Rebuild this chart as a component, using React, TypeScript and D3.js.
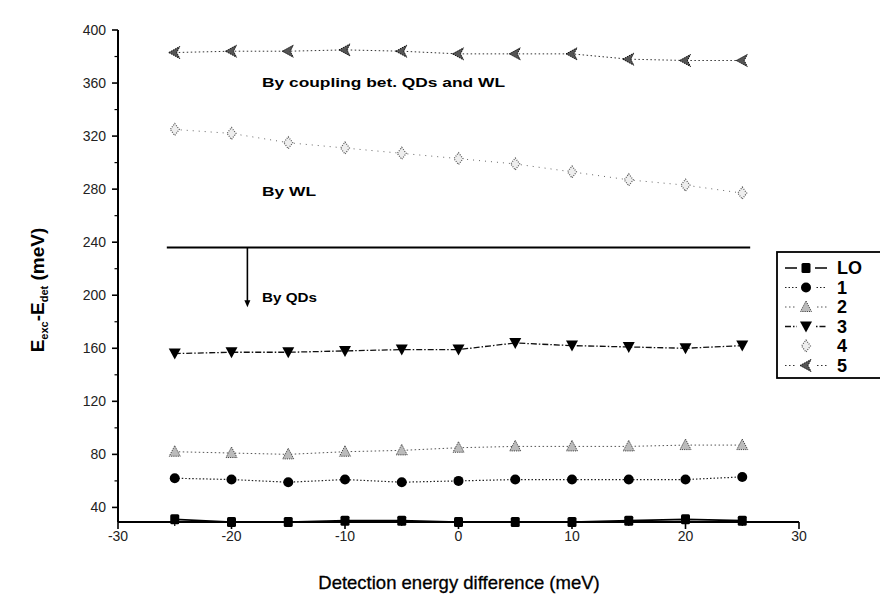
import React from "react";
import * as d3 from "d3";

const xValues = [-25, -20, -15, -10, -5, 0, 5, 10, 15, 20, 25];
const seriesLO = [31, 29, 29, 30, 30, 29, 29, 29, 30, 31, 30];
const series1 = [62, 61, 59, 61, 59, 60, 61, 61, 61, 61, 63];
const series2 = [82, 81, 80, 82, 83, 85, 86, 86, 86, 87, 87];
const series3 = [156, 157, 157, 158, 159, 159, 164, 162, 161, 160, 162];
const series4 = [325, 322, 315, 311, 307, 303, 299, 293, 287, 283, 277];
const series5 = [383, 384, 384, 385, 384, 382, 382, 382, 378, 377, 377];
const seriesNames = ["LO", "1", "2", "3", "4", "5"];
const xTicks = [-30, -20, -10, 0, 10, 20, 30];
const yTicks = [40, 80, 120, 160, 200, 240, 280, 320, 360, 400];
const thresholdLine = { y: 236, x0: -25.7, x1: 25.7, arrowX: -18.6, arrowTo: 191 };
const annotations = ["By coupling bet. QDs and WL", "By WL", "By QDs"];

const W = 880, H = 612;
const x = d3.scaleLinear().domain([-30, 30]).range([118, 799]);
const y = d3.scaleLinear().domain([29, 400]).range([522, 30]);

type Style = { stroke: string; dash: string | undefined; width: number; marker: string };
const styles: Style[] = [
  { stroke: "#000", dash: undefined, width: 1.6, marker: "square" },
  { stroke: "#222", dash: "1.5,2", width: 1.2, marker: "circle" },
  { stroke: "#555", dash: "1.5,2.5", width: 1, marker: "tri" },
  { stroke: "#111", dash: "6,2,1.5,2", width: 1.3, marker: "down" },
  { stroke: "#666", dash: "1,5", width: 1, marker: "diamond" },
  { stroke: "#333", dash: "1.5,2.5", width: 1, marker: "left" },
];

function Marker({ kind, cx, cy }: { kind: string; cx: number; cy: number }) {
  switch (kind) {
    case "square":
      return <rect x={cx - 4.5} y={cy - 5} width={9} height={10} rx={1.5} fill="#000" />;
    case "circle":
      return <circle cx={cx} cy={cy} r={5} fill="#000" />;
    case "tri":
      return (
        <path d={`M${cx},${cy - 6}L${cx + 5.5},${cy + 4.5}L${cx - 5.5},${cy + 4.5}Z`}
          fill="#bbb" stroke="#444" strokeWidth={1} strokeDasharray="1.2,1" />
      );
    case "down":
      return <path d={`M${cx - 6},${cy - 5}L${cx + 6},${cy - 5}L${cx},${cy + 6}Z`} fill="#000" />;
    case "diamond":
      return (
        <path d={`M${cx},${cy - 6}L${cx + 4.5},${cy}L${cx},${cy + 6}L${cx - 4.5},${cy}Z`}
          fill="#eee" stroke="#555" strokeWidth={1.2} strokeDasharray="1,1.3" />
      );
    case "left":
      return (
        <path d={`M${cx - 6},${cy}L${cx + 5},${cy - 6}L${cx + 2},${cy}L${cx + 5},${cy + 6}Z`}
          fill="#555" stroke="#111" strokeWidth={1} strokeDasharray="1.5,0.8" />
      );
  }
  return null;
}

export default function App() {
  const all = [seriesLO, series1, series2, series3, series4, series5];
  const line = d3.line<number>().x((_, i) => x(xValues[i])).y((v) => y(v));
  const yMinor = d3.range(40, 400, 20).filter((v) => !yTicks.includes(v));
  const xMinor = d3.range(-25, 30, 10);
  const legendX = 777, legendY = 252;
  const ax = x(thresholdLine.arrowX);
  const ay = y(thresholdLine.arrowTo);
  return (
    <svg width={W} height={H} style={{ position: "absolute", left: 0, top: 0, background: "#fff" }}
      fontFamily="'Liberation Sans', Arial, sans-serif">
      <rect width={W} height={H} fill="#fff" />
      {/* axes */}
      <line x1={x(-30)} x2={x(-30)} y1={y(400)} y2={y(29)} stroke="#000" strokeWidth={2} />
      <line x1={x(-30)} x2={x(30)} y1={y(29)} y2={y(29)} stroke="#000" strokeWidth={2} />
      {yTicks.map((t) => (
        <g key={t}>
          <line x1={x(-30) - 6} x2={x(-30)} y1={y(t)} y2={y(t)} stroke="#000" strokeWidth={1.6} />
          <text x={x(-30) - 12} y={y(t)} dy="0.35em" textAnchor="end" fontSize={14} fill="#222">{t}</text>
        </g>
      ))}
      {yMinor.map((t) => (
        <line key={t} x1={x(-30) - 3.5} x2={x(-30)} y1={y(t)} y2={y(t)} stroke="#000" strokeWidth={1.2} />
      ))}
      {xTicks.map((t) => (
        <g key={t}>
          <line x1={x(t)} x2={x(t)} y1={y(29)} y2={y(29) + 7} stroke="#000" strokeWidth={1.6} />
          <text x={x(t)} y={y(29) + 19} textAnchor="middle" fontSize={14} fill="#222">{t}</text>
        </g>
      ))}
      {xMinor.map((t) => (
        <line key={t} x1={x(t)} x2={x(t)} y1={y(29)} y2={y(29) + 4} stroke="#000" strokeWidth={1.2} />
      ))}
      <text x={459} y={589} textAnchor="middle" fontSize={18.5} fill="#000" stroke="#000" strokeWidth={0.3}>Detection energy difference (meV)</text>
      <g transform="translate(44,290) rotate(-90)">
        <text textAnchor="middle" fontSize={19} fontWeight="bold" fill="#000">
          E<tspan fontSize={11} dy={4}>exc</tspan><tspan dy={-4}>-E</tspan><tspan fontSize={11} dy={4}>det</tspan><tspan dy={-4}> (meV)</tspan>
        </text>
      </g>
      {/* threshold line and arrow */}
      <line x1={x(thresholdLine.x0)} x2={x(thresholdLine.x1)} y1={y(thresholdLine.y)} y2={y(thresholdLine.y)} stroke="#000" strokeWidth={2} />
      <line x1={ax} x2={ax} y1={y(thresholdLine.y)} y2={ay - 6} stroke="#000" strokeWidth={1.6} />
      <path d={`M${ax - 3},${ay - 7}L${ax + 3},${ay - 7}L${ax},${ay}Z`} fill="#000" />
      <g fontSize={13} fontWeight="bold" fill="#000">
        <text x={262} y={87} textLength={243} lengthAdjust="spacingAndGlyphs">{annotations[0]}</text>
        <text x={262} y={196} textLength={54} lengthAdjust="spacingAndGlyphs">{annotations[1]}</text>
        <text x={262} y={302} textLength={55} lengthAdjust="spacingAndGlyphs">{annotations[2]}</text>
      </g>
      {/* series */}
      {all.map((s, si) => (
        <g key={si}>
          <path d={line(s) || ""} fill="none" stroke={styles[si].stroke} strokeWidth={styles[si].width} strokeDasharray={styles[si].dash} />
          {s.map((v, i) => (
            <Marker key={i} kind={styles[si].marker} cx={x(xValues[i])} cy={y(v)} />
          ))}
        </g>
      ))}
      {/* legend */}
      <rect x={legendX} y={legendY} width={120} height={126} fill="#fff" stroke="#000" strokeWidth={1.8} />
      {seriesNames.map((n, i) => {
        const ry = legendY + 16 + i * 19.5;
        return (
          <g key={n}>
            {i === 4 ? null : (
              <line x1={legendX + 8} x2={legendX + 50} y1={ry} y2={ry} stroke={styles[i].stroke} strokeWidth={styles[i].width} strokeDasharray={styles[i].dash} />
            )}
            <rect x={legendX + 20} y={ry - 7} width={18} height={14} fill="#fff" />
            <Marker kind={styles[i].marker} cx={legendX + 29} cy={ry} />
            <text x={legendX + 60} y={ry} dy="0.36em" fontSize={18} fontWeight="bold" fill="#000">{n}</text>
          </g>
        );
      })}
    </svg>
  );
}
